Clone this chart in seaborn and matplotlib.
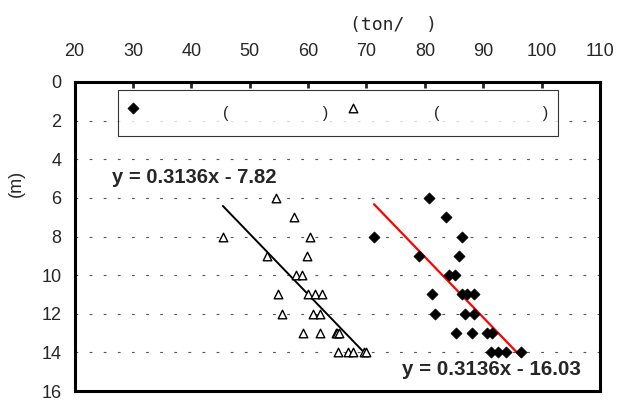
import numpy as np
import pandas as pd
import matplotlib
matplotlib.use('Agg')
import matplotlib.pyplot as plt
import seaborn as sns

# Datos (x = ton/..., y = profundidad m)
depth_tri = [6, 7, 8, 8, 9, 9, 10, 10, 11, 11, 11, 11, 12, 12, 12,
             13, 13, 13, 13, 13, 14, 14, 14, 14, 14]
val_tri = [54.5, 57.6, 45.4, 60.3, 53.0, 59.8, 57.9, 59.0, 54.9, 60.0, 61.2, 62.4,
           55.5, 60.9, 62.0, 59.2, 62.0, 64.7, 65.0, 65.3, 65.2, 66.8, 67.7, 69.5, 70.0]

depth_dia = [6, 7, 8, 8, 9, 9, 10, 10, 11, 11, 11, 11, 12, 12, 12,
             13, 13, 13, 13, 14, 14, 14, 14]
val_dia = [80.7, 83.7, 71.3, 86.4, 79.0, 85.8, 84.1, 85.2, 81.2, 86.3, 87.3, 88.4,
           81.8, 86.9, 88.4, 85.3, 88.0, 90.7, 91.5, 91.3, 92.6, 93.9, 96.5]

slope = 0.3136
icpt_tri = -7.82
icpt_dia = -16.03

label_dia = ' ' * 18 + '(' + ' ' * 21 + ')'
label_tri = ' ' * 16 + '(' + ' ' * 23 + ')'

x_ticks = [20, 30, 40, 50, 60, 70, 80, 90, 100, 110]
y_ticks = [0, 2, 4, 6, 8, 10, 12, 14, 16]

sns.set_style('white')
plt.rcParams['font.family'] = ['Liberation Sans', 'DejaVu Sans']

tri = pd.DataFrame({'x': val_tri, 'y': depth_tri})
dia = pd.DataFrame({'x': val_dia, 'y': depth_dia})

fig = plt.figure(figsize=(6.18, 4.0), dpi=100)
ax = fig.add_axes([0.1206, 0.0225, 0.8503, 0.7725])

# lineas de tendencia
xt = np.array([min(val_tri), max(val_tri)])
xd = np.array([min(val_dia), max(val_dia)])
sns.lineplot(x=xt, y=slope * xt + icpt_tri, ax=ax, color='black', lw=1.4, zorder=3)
sns.lineplot(x=xd, y=slope * xd + icpt_dia, ax=ax, color='red', lw=1.6, zorder=3)

sns.scatterplot(data=dia, x='x', y='y', ax=ax, marker='D', s=32, color='black',
                edgecolor='black', linewidth=0.5, label=label_dia, zorder=4)
sns.scatterplot(data=tri, x='x', y='y', ax=ax, marker='^', s=38, facecolor='white',
                edgecolor='black', linewidth=1, label=label_tri, zorder=4)

ax.set_xlim(20, 110)
ax.set_ylim(16, 0)
ax.set_xticks(x_ticks)
ax.set_yticks(y_ticks)
ax.xaxis.tick_top()
ax.xaxis.set_label_position('top')
ax.tick_params(axis='both', direction='in', length=4, width=2, labelsize=13)
ax.tick_params(axis='x', pad=16)
ax.tick_params(axis='y', pad=9.5)
ax.set_xlabel('(ton/  )', fontsize=13, family='DejaVu Sans Mono')
ax.xaxis.set_label_coords(0.607, 1.167)
ax.set_ylabel('(m)', fontsize=13)
ax.yaxis.set_label_coords(-0.094, 0.673)

for y in y_ticks[1:-1]:
    ax.axhline(y, color='#555555', lw=0.8, dashes=(2.5, 10.2), zorder=1)

for s in ax.spines.values():
    s.set_linewidth(2.2)
    s.set_color('black')

ax.text(26.5, 5.25, 'y = 0.3136x - 7.82', fontsize=14.5, fontweight='bold', va='baseline')
ax.text(76.1, 15.18, 'y = 0.3136x - 16.03', fontsize=14.8, fontweight='bold', va='baseline')

leg = ax.legend(loc='center', bbox_to_anchor=(0.0828, 0.8897, 0.837, 0.02), mode='expand',
                ncol=2, frameon=True, fancybox=False, fontsize=11.5, handletextpad=0.2,
                handlelength=0.7, handleheight=2.2, borderpad=0.6, borderaxespad=0)
leg.get_frame().set_edgecolor('black')
leg.get_frame().set_linewidth(0.8)

fig.savefig('out.png', dpi=100)
